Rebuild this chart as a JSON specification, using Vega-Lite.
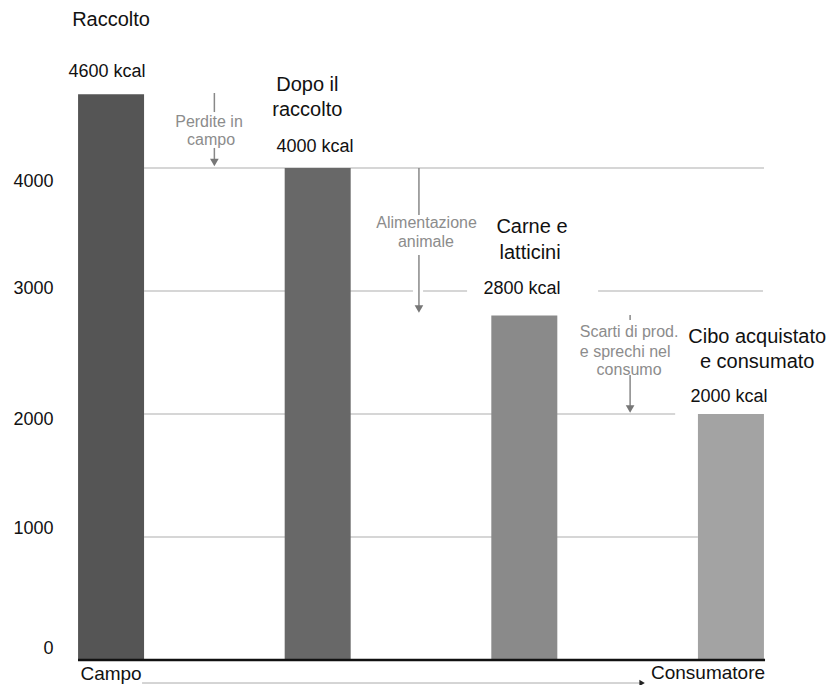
{
  "$schema": "https://vega.github.io/schema/vega-lite/v6.json",
  "width": 686,
  "height": 615,
  "autosize": {"type": "none"},
  "padding": {"left": 78, "top": 45, "right": 66, "bottom": 25},
  "background": "white",
  "config": {"view": {"stroke": null}, "text": {"font": "Liberation Sans"}},
  "datasets": {
    "bars": [
      {"stage": 0, "name": "Raccolto", "kcal": 4600},
      {"stage": 1, "name": "Dopo il raccolto", "kcal": 4000},
      {"stage": 2, "name": "Carne e latticini", "kcal": 2800},
      {"stage": 3, "name": "Cibo acquistato e consumato", "kcal": 2000}
    ],
    "grid": [
      {"stage": 0.16, "stage2": 3.16, "kcal": 4000},
      {"stage": 0.16, "stage2": 1.461, "kcal": 3000},
      {"stage": 1.51, "stage2": 1.723, "kcal": 3000},
      {"stage": 2.357, "stage2": 3.155, "kcal": 3000},
      {"stage": 0.16, "stage2": 2.73, "kcal": 2000},
      {"stage": 0.16, "stage2": 2.84, "kcal": 1000}
    ],
    "baseline": [
      {"stage": -0.16, "stage2": 3.165, "kcal": 0}
    ],
    "titles": [
      {"stage": 0, "kcal": 5203, "text": "Raccolto"},
      {"stage": 0.95, "kcal": 4675, "text": "Dopo il"},
      {"stage": 0.95, "kcal": 4472, "text": "raccolto"},
      {"stage": 2.037, "kcal": 3520, "text": "Carne e"},
      {"stage": 2.028, "kcal": 3309, "text": "latticini"},
      {"stage": 3.127, "kcal": 2626, "text": "Cibo acquistato"},
      {"stage": 3.127, "kcal": 2423, "text": "e consumato"}
    ],
    "values": [
      {"stage": -0.02, "kcal": 4780, "text": "4600 kcal"},
      {"stage": 0.987, "kcal": 4171, "text": "4000 kcal"},
      {"stage": 1.989, "kcal": 3016, "text": "2800 kcal"},
      {"stage": 2.991, "kcal": 2138, "text": "2000 kcal"}
    ],
    "ends": [
      {"stage": 0.0, "kcal": -114, "text": "Campo"},
      {"stage": 2.889, "kcal": -106, "text": "Consumatore"}
    ],
    "notes": [
      {"stage": 0.474, "kcal": 4374, "text": "Perdite in"},
      {"stage": 0.484, "kcal": 4228, "text": "campo"},
      {"stage": 1.527, "kcal": 3553, "text": "Alimentazione"},
      {"stage": 1.524, "kcal": 3398, "text": "animale"},
      {"stage": 2.507, "kcal": 2667, "text": "Scarti di prod."},
      {"stage": 2.488, "kcal": 2504, "text": "e sprechi nel"},
      {"stage": 2.507, "kcal": 2358, "text": "consumo"}
    ],
    "arrowLines": [
      {"stage": 0.5, "kcal": 4610, "kcal2": 4455},
      {"stage": 0.5, "kcal": 4163, "kcal2": 4045},
      {"stage": 1.49, "kcal": 4000, "kcal2": 3618},
      {"stage": 1.49, "kcal": 3293, "kcal2": 2865},
      {"stage": 2.512, "kcal": 2805, "kcal2": 2764},
      {"stage": 2.512, "kcal": 2317, "kcal2": 2050}
    ],
    "arrowHeads": [
      {"stage": 0.5, "kcal": 4045},
      {"stage": 1.49, "kcal": 2854},
      {"stage": 2.512, "kcal": 2041}
    ],
    "flow": [
      {"stage": 0.15, "stage2": 2.56, "kcal": -187}
    ],
    "flowHead": [
      {"stage": 2.57, "kcal": -187}
    ]
  },
  "encoding": {
    "x": {"field": "stage", "type": "quantitative", "scale": {"domain": [-0.16, 3.16], "nice": false, "zero": false, "padding": 0}, "axis": null},
    "y": {"field": "kcal", "type": "quantitative", "scale": {"domain": [0, 5000], "nice": false, "zero": false, "padding": 0},
      "axis": {"title": null, "values": [0, 1000, 2000, 3000, 4000], "format": "d", "domain": false, "ticks": false, "grid": false,
        "labelPadding": 25, "labelFontSize": 18, "labelFont": "Liberation Sans", "labelColor": "#111111", "labelBaseline": "middle",
        "labelOffset": {"condition": [
          {"test": "datum.value === 4000", "value": 13},
          {"test": "datum.value === 3000", "value": -3},
          {"test": "datum.value === 2000", "value": 5},
          {"test": "datum.value === 1000", "value": -9}
        ], "value": -12}}}
  },
  "layer": [
    {
      "data": {"name": "grid"},
      "mark": {"type": "rule", "color": "#c8c8c8", "strokeWidth": 1.5},
      "encoding": {"x2": {"field": "stage2"}}
    },
    {
      "data": {"name": "bars"},
      "mark": {"type": "bar", "size": 66, "orient": "vertical"},
      "encoding": {
        "color": {"field": "name", "type": "nominal", "legend": null,
          "scale": {"domain": ["Raccolto", "Dopo il raccolto", "Carne e latticini", "Cibo acquistato e consumato"],
            "range": ["#555555", "#686868", "#8a8a8a", "#a3a3a3"]}}
      }
    },
    {
      "data": {"name": "baseline"},
      "mark": {"type": "rule", "color": "#111111", "strokeWidth": 2.5},
      "encoding": {"x2": {"field": "stage2"}}
    },
    {
      "data": {"name": "arrowLines"},
      "mark": {"type": "rule", "color": "#888888", "strokeWidth": 1.5},
      "encoding": {"y2": {"field": "kcal2"}}
    },
    {
      "data": {"name": "arrowHeads"},
      "mark": {"type": "point", "shape": "triangle-down", "filled": true, "color": "#777777", "size": 75, "opacity": 1}
    },
    {
      "data": {"name": "flow"},
      "mark": {"type": "rule", "color": "#aaaaaa", "strokeWidth": 1},
      "encoding": {"x2": {"field": "stage2"}}
    },
    {
      "data": {"name": "flowHead"},
      "mark": {"type": "point", "shape": "triangle-right", "filled": true, "color": "#222222", "size": 40, "opacity": 1}
    },
    {
      "data": {"name": "titles"},
      "mark": {"type": "text", "fontSize": 20, "color": "#111111", "align": "center", "baseline": "middle"},
      "encoding": {"text": {"field": "text"}}
    },
    {
      "data": {"name": "values"},
      "mark": {"type": "text", "fontSize": 18, "color": "#111111", "align": "center", "baseline": "middle"},
      "encoding": {"text": {"field": "text"}}
    },
    {
      "data": {"name": "ends"},
      "mark": {"type": "text", "fontSize": 19, "color": "#111111", "align": "center", "baseline": "middle"},
      "encoding": {"text": {"field": "text"}}
    },
    {
      "data": {"name": "notes"},
      "mark": {"type": "text", "fontSize": 16, "color": "#8c8c8c", "align": "center", "baseline": "middle"},
      "encoding": {"text": {"field": "text"}}
    }
  ]
}
